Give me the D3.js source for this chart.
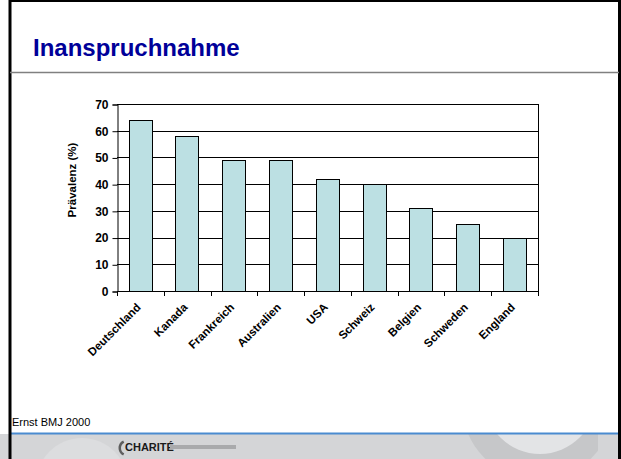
<!DOCTYPE html>
<html>
<head>
<meta charset="utf-8">
<script src="https://cdn.jsdelivr.net/npm/d3@7"></script>
<style>
  body { margin: 0; background: #fff; }
  svg { display: block; font-family: "Liberation Sans", Arial, sans-serif; }
</style>
</head>
<body>
<div id="chart"></div>
<script>
// data (Ernst BMJ 2000)
const countries = ["Deutschland", "Kanada", "Frankreich", "Australien", "USA", "Schweiz", "Belgien", "Schweden", "England"]
const prevalence = [64, 58, 49, 49, 42, 40, 31, 25, 20]
const yTicks = [0, 10, 20, 30, 40, 50, 60, 70]

const W = 621, H = 459
const plot = { left: 117, right: 538, top: 104, bottom: 291 }

const svg = d3.select("#chart").append("svg")
    .attr("width", W)
    .attr("height", H)

svg.append("rect").attr("x", 0).attr("y", 0).attr("width", W).attr("height", H).attr("fill", "#fff")

// footer band with decoration
const defs = svg.append("defs")
defs.append("clipPath").attr("id", "band")
    .append("rect").attr("x", 0).attr("y", 434).attr("width", W).attr("height", 25)
const band = svg.append("g").attr("clip-path", "url(#band)")
band.append("rect").attr("x", 0).attr("y", 434).attr("width", W).attr("height", 25).attr("fill", "#d4d5d7")
band.append("circle").attr("cx", 82).attr("cy", 484).attr("r", 46).attr("fill", "#dcdddf")
band.append("circle").attr("cx", 538).attr("cy", 404).attr("r", 76).attr("fill", "#c6c7c9")
band.append("circle").attr("cx", 540).attr("cy", 398).attr("r", 56).attr("fill", "#e3e4e6")
band.append("rect").attr("x", 598).attr("y", 434).attr("width", 30).attr("height", 25).attr("fill", "#d4d5d7")
svg.append("line").attr("x1", 10).attr("x2", 619).attr("y1", 433.5).attr("y2", 433.5)
    .attr("stroke", "#4a8bd0").attr("stroke-width", 2)

// logo: open "C" arc, word mark, grey url strip
const arc = d3.arc().innerRadius(6).outerRadius(8.5).startAngle(Math.PI * 1.15).endAngle(Math.PI * 1.85)
band.append("path").attr("transform", "translate(127,448)").attr("d", arc()).attr("fill", "#5e5e5e")
svg.append("text").attr("x", 125).attr("y", 451).attr("font-size", 11).attr("font-weight", "bold")
    .attr("fill", "#1a1a1a").text("CHARITÉ")
svg.append("rect").attr("x", 170).attr("y", 445).attr("width", 66).attr("height", 4).attr("fill", "#a9aaac")

// borders
svg.append("line").attr("x1", 10).attr("x2", 10).attr("y1", 0).attr("y2", H).attr("stroke", "#000").attr("stroke-width", 3)
svg.append("line").attr("x1", 619.5).attr("x2", 619.5).attr("y1", 0).attr("y2", H).attr("stroke", "#000").attr("stroke-width", 3)
svg.append("line").attr("x1", 10).attr("x2", W).attr("y1", 1).attr("y2", 1).attr("stroke", "#000").attr("stroke-width", 2)

// title
svg.append("text").attr("x", 33).attr("y", 56)
    .attr("font-size", 24).attr("font-weight", "bold").attr("fill", "#000099")
    .text("Inanspruchnahme")
svg.append("line").attr("x1", 10).attr("x2", 619).attr("y1", 72.5).attr("y2", 72.5)
    .attr("stroke", "#808080").attr("stroke-width", 1.5)

// source
svg.append("text").attr("x", 12).attr("y", 426).attr("font-size", 11).attr("fill", "#000")
    .text("Ernst BMJ 2000")

// scales
const x = d3.scaleBand()
    .domain(countries)
    .range([plot.left, plot.right])
    .paddingInner(0.5)
    .paddingOuter(0.25)
const y = d3.scaleLinear()
    .domain([0, 70])
    .range([plot.bottom, plot.top])

const g = svg.append("g")

// gridlines
g.selectAll("line.grid")
    .data(yTicks.filter(d => d > 0))
    .join("line")
    .attr("class", "grid")
    .attr("x1", plot.left).attr("x2", plot.right)
    .attr("y1", d => Math.round(y(d)) + 0.5).attr("y2", d => Math.round(y(d)) + 0.5)
    .attr("stroke", "#000").attr("stroke-width", 1)
g.append("line")
    .attr("x1", plot.right + 0.5).attr("x2", plot.right + 0.5)
    .attr("y1", plot.top).attr("y2", plot.bottom)
    .attr("stroke", "#000")

// bars
g.selectAll("rect.bar")
    .data(countries)
    .join("rect")
    .attr("class", "bar")
    .attr("x", d => Math.round(x(d)) + 0.5)
    .attr("y", (d, i) => Math.round(y(prevalence[i])) + 0.5)
    .attr("width", Math.round(x.bandwidth()))
    .attr("height", (d, i) => Math.round(y(0)) - Math.round(y(prevalence[i])))
    .attr("fill", "#bce0e3")
    .attr("stroke", "#000")
    .attr("stroke-width", 1)

// y axis
const yAxis = g.append("g")
    .attr("transform", `translate(${plot.left + 0.5},0.5)`)
    .call(d3.axisLeft(y).tickValues(yTicks).tickSize(5).tickPadding(4))
yAxis.select(".domain").attr("stroke", "#000")
yAxis.selectAll(".tick line").attr("stroke", "#000")
yAxis.selectAll(".tick text")
    .attr("font-family", "Liberation Sans, Arial, sans-serif")
    .attr("font-size", 12).attr("font-weight", "bold").attr("fill", "#000")

// x axis: ticks sit between categories
const step = x.step()
const xTicks = d3.range(countries.length + 1).map(i => plot.left + i * step)
g.append("line")
    .attr("x1", plot.left).attr("x2", plot.right + 1)
    .attr("y1", Math.round(y(0)) + 0.5).attr("y2", Math.round(y(0)) + 0.5)
    .attr("stroke", "#000")
g.selectAll("line.xtick")
    .data(xTicks)
    .join("line")
    .attr("class", "xtick")
    .attr("x1", d => Math.round(d) + 0.5).attr("x2", d => Math.round(d) + 0.5)
    .attr("y1", Math.round(y(0))).attr("y2", Math.round(y(0)) + 5)
    .attr("stroke", "#000")

g.selectAll("text.xlabel")
    .data(countries)
    .join("text")
    .attr("class", "xlabel")
    .attr("transform", d => `translate(${x(d) + x.bandwidth() / 2 + 1},${plot.bottom + 17}) rotate(-45)`)
    .attr("text-anchor", "end")
    .attr("font-size", 11.5).attr("font-weight", "bold")
    .text(d => d)

// y axis title
svg.append("text")
    .attr("transform", `translate(76,180) rotate(-90)`)
    .attr("text-anchor", "middle")
    .attr("font-size", 11.5).attr("font-weight", "bold")
    .text("Prävalenz (%)")
</script>
</body>
</html>
